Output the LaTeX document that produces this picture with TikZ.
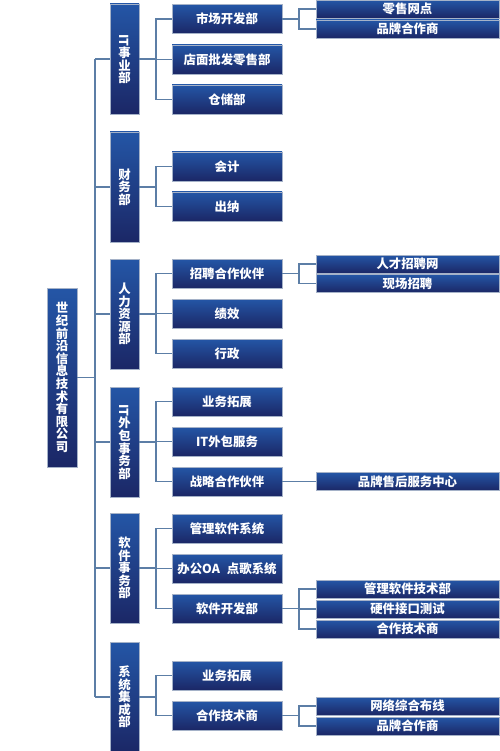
\documentclass[tikz,border=0pt]{standalone}
\usepackage{fontspec}
\usepackage{graphicx}
\newfontfamily\cjk{Noto Sans CJK SC}
\definecolor{boxtop}{RGB}{36,86,166}
\definecolor{boxmid}{RGB}{26,72,150}
\definecolor{boxbot}{RGB}{27,39,102}
\definecolor{boxedge}{RGB}{165,178,200}
\definecolor{linkc}{RGB}{92,126,166}
\begin{document}
\begin{tikzpicture}[x=1pt,y=-1pt,
  box/.style={rectangle, inner sep=0pt, draw=boxedge, line width=0.6pt,
    top color=boxtop, middle color=boxmid, bottom color=boxbot, text=white,
    font=\cjk\bfseries\fontsize{12.4}{12.6}\selectfont},
  lvroot/.style={box, minimum width=30pt, minimum height=179pt, align=center},
  lvone/.style={box, minimum width=29pt, minimum height=110pt, align=center},
  lvtwo/.style={box, minimum width=110pt, minimum height=29pt},
  lvthree/.style={box, minimum width=183pt, minimum height=18pt},
  link/.style={draw=linkc, line width=1.1pt}]
\useasboundingbox (0,0) rectangle (499,751);

% bracket x positions
\coordinate (trunktop) at (95,59);
\coordinate (trunkbot) at (95,697);
\coordinate (bxa) at (156,0);
\coordinate (bxb) at (299,0);

% root
\node[lvroot] (root) at (62,377.5) {世\\纪\\前\\沿\\信\\息\\技\\术\\有\\限\\公\\司};

% level 1
\node[lvone] (d1) at (124.5,59) {\rotatebox[origin=c]{-90}{IT}\\事\\业\\部};
\node[lvone] (d2) at (124.5,187) {财\\务\\部};
\node[lvone] (d3) at (124.5,314) {人\\力\\资\\源\\部};
\node[lvone] (d4) at (124.5,442) {\rotatebox[origin=c]{-90}{IT}\\外\\包\\事\\务\\部};
\node[lvone] (d5) at (124.5,568) {软\\件\\事\\务\\部};
\node[lvone] (d6) at (124.5,697) {系\\统\\集\\成\\部};

% level 2
\node[lvtwo] (a1) at (227,19) {市场开发部};
\node[lvtwo] (a2) at (227,59.5) {店面批发零售部};
\node[lvtwo] (a3) at (227,99.5) {仓储部};
\node[lvtwo] (b1) at (227,166.5) {会计};
\node[lvtwo] (b2) at (227,206.5) {出纳};
\node[lvtwo] (c1) at (227,273.5) {招聘合作伙伴};
\node[lvtwo] (c2) at (227,313.5) {绩效};
\node[lvtwo] (c3) at (227,353.5) {行政};
\node[lvtwo] (e1) at (227,401.5) {业务拓展};
\node[lvtwo] (e2) at (227,441.5) {IT外包服务};
\node[lvtwo] (e3) at (227,481.5) {战略合作伙伴};
\node[lvtwo] (f1) at (227,528.5) {管理软件系统};
\node[lvtwo] (f2) at (227,568.5) {办公OA\hspace{7pt}点歌系统};
\node[lvtwo] (f3) at (227,608.5) {软件开发部};
\node[lvtwo] (g1) at (227,675.5) {业务拓展};
\node[lvtwo] (g2) at (227,715.5) {合作技术商};

% level 3
\node[lvthree] (a1x) at (407.5,9) {零售网点};
\node[lvthree] (a1y) at (407.5,29) {品牌合作商};
\node[lvthree] (c1x) at (407.5,264) {人才招聘网};
\node[lvthree] (c1y) at (407.5,283.5) {现场招聘};
\node[lvthree] (e3x) at (407.5,481.5) {品牌售后服务中心};
\node[lvthree] (f3x) at (407.5,589) {管理软件技术部};
\node[lvthree] (f3y) at (407.5,609) {硬件接口测试};
\node[lvthree] (f3z) at (407.5,629) {合作技术商};
\node[lvthree] (g2x) at (407.5,706) {网络综合布线};
\node[lvthree] (g2y) at (407.5,726) {品牌合作商};

% trunk
\draw[link] (trunktop) -- (trunkbot);
\draw[link] (root.east) -- (root.east -| trunktop);
\foreach \d in {d1,d2,d3,d4,d5,d6}
  \draw[link] (\d.west) -- (\d.west -| trunktop);

% level 1 -> level 2
\draw[link] (d1.east) -- (d1.east -| bxa);
\draw[link] (a1.west) -- (a1.west -| bxa) -- (a3.west -| bxa) -- (a3.west);
\draw[link] (a2.west) -- (a2.west -| bxa);
\draw[link] (d2.east) -- (d2.east -| bxa);
\draw[link] (b1.west) -- (b1.west -| bxa) -- (b2.west -| bxa) -- (b2.west);
\draw[link] (d3.east) -- (d3.east -| bxa);
\draw[link] (c1.west) -- (c1.west -| bxa) -- (c3.west -| bxa) -- (c3.west);
\draw[link] (c2.west) -- (c2.west -| bxa);
\draw[link] (d4.east) -- (d4.east -| bxa);
\draw[link] (e1.west) -- (e1.west -| bxa) -- (e3.west -| bxa) -- (e3.west);
\draw[link] (e2.west) -- (e2.west -| bxa);
\draw[link] (d5.east) -- (d5.east -| bxa);
\draw[link] (f1.west) -- (f1.west -| bxa) -- (f3.west -| bxa) -- (f3.west);
\draw[link] (f2.west) -- (f2.west -| bxa);
\draw[link] (d6.east) -- (d6.east -| bxa);
\draw[link] (g1.west) -- (g1.west -| bxa) -- (g2.west -| bxa) -- (g2.west);

% level 2 -> level 3
\draw[link] (a1.east) -- (a1.east -| bxb);
\draw[link] (a1x.west) -- (a1x.west -| bxb) -- (a1y.west -| bxb) -- (a1y.west);
\draw[link] (c1.east) -- (c1.east -| bxb);
\draw[link] (c1x.west) -- (c1x.west -| bxb) -- (c1y.west -| bxb) -- (c1y.west);
\draw[link] (e3.east) -- (e3x.west);
\draw[link] (f3.east) -- (f3.east -| bxb);
\draw[link] (f3x.west) -- (f3x.west -| bxb) -- (f3z.west -| bxb) -- (f3z.west);
\draw[link] (f3y.west) -- (f3y.west -| bxb);
\draw[link] (g2.east) -- (g2.east -| bxb);
\draw[link] (g2x.west) -- (g2x.west -| bxb) -- (g2y.west -| bxb) -- (g2y.west);
\end{tikzpicture}
\end{document}
